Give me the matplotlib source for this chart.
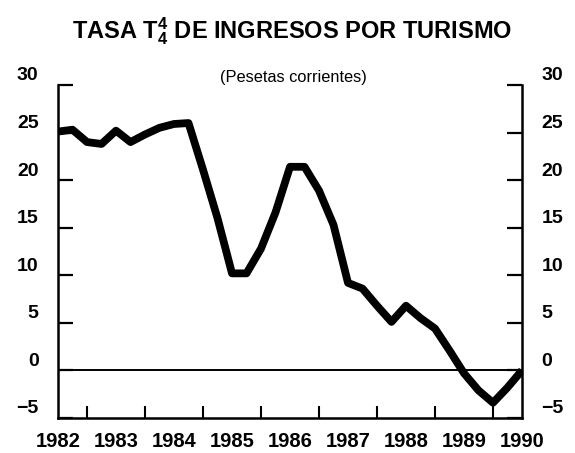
import matplotlib
matplotlib.use("Agg")
import matplotlib.pyplot as plt
from matplotlib.transforms import ScaledTranslation
import pandas as pd

# quarterly T4/4 rate of tourism receipts, 1982-I .. 1990-I
QUARTERS = pd.period_range("1982Q1", "1990Q1", freq="Q")
RATE = [25.1, 25.3, 24.0, 23.8, 25.2, 24.0, 24.8, 25.5,
        25.9, 26.0, 21.1, 16.0, 10.2, 10.2, 12.8, 16.6,
        21.4, 21.4, 18.9, 15.3, 9.2, 8.6, 6.8, 5.1,
        6.8, 5.5, 4.4, 2.1, -0.3, -2.1, -3.4, -1.8, 0.0]

YTICKS = [-5, 0, 5, 10, 15, 20, 25, 30]
XLABEL_YEARS = list(range(1982, 1991))
HALF_YEARS = [1982.5, 1983.5, 1984.5, 1985.5, 1986.5, 1987.5, 1988.5, 1989.5,
              1983, 1984, 1985, 1986, 1987, 1988, 1989]

plt.rcParams["font.family"] = ["Liberation Sans", "DejaVu Sans"]

x = [p.year + (p.quarter - 1) / 4 for p in QUARTERS]

fig = plt.figure(figsize=(5.75, 4.53), dpi=100)
ax = fig.add_axes([0.1009, 0.0773, 0.8069, 0.7351])

ax.plot(x, RATE, color="black", lw=5.6, solid_joinstyle="round",
        solid_capstyle="butt", zorder=3)
ax.axhline(0, color="black", lw=1.4, zorder=2)

ax.set_xlim(1982, 1990)
ax.set_ylim(-5, 30)

for side in ["left", "right", "bottom"]:
    ax.spines[side].set_linewidth(1.8)
ax.spines["top"].set_visible(False)

ax.set_yticks(YTICKS)
ax.set_xticks(XLABEL_YEARS)
ax.set_xticklabels([str(y) for y in XLABEL_YEARS], fontsize=14.5, fontweight="bold")
ax.set_xticks(HALF_YEARS, minor=True)

ax.tick_params(axis="y", direction="in", length=11, width=1.6, left=True, right=True,
               labelleft=True, labelright=True, labelsize=14)
ax.tick_params(axis="y", which="major", pad=14)
ax.tick_params(axis="x", which="major", length=0, pad=10)
ax.tick_params(axis="x", which="minor", direction="in", length=9, width=1.5)

offset = ScaledTranslation(0, 8 / 72, fig.dpi_scale_trans)
for tick in ax.yaxis.get_major_ticks():
    for lab in (tick.label1, tick.label2):
        lab.set_fontweight("bold")
        lab.set_transform(lab.get_transform() + offset)

fig.text(0.508, 0.916, r"TASA $\mathregular{T_4^4}$ DE INGRESOS POR TURISMO",
         ha="center", va="baseline", fontsize=17, fontweight="bold")
fig.text(0.511, 0.83, "(Pesetas corrientes)", ha="center", va="center", fontsize=11.8)

fig.savefig("out.png", dpi=100)
